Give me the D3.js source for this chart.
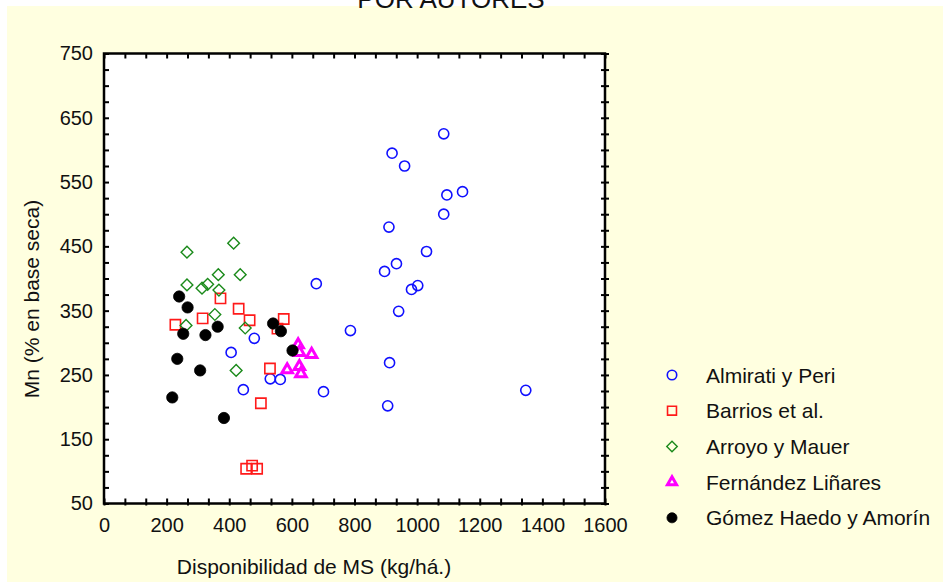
<!DOCTYPE html>
<html>
<head>
<meta charset="utf-8">
<script src="https://cdn.jsdelivr.net/npm/d3@7/dist/d3.min.js"></script>
<style>
  html, body { margin: 0; padding: 0; background: #ffffff; }
  svg { display: block; font-family: "Liberation Sans", Arial, sans-serif; }
</style>
</head>
<body>
<svg id="chart" width="943" height="587"></svg>
<script>
// Mn content vs. dry-matter availability, grouped by author
const almirati = [
  [1085, 625], [920, 595], [960, 575], [1145, 535], [1095, 530], [1085, 500],
  [910, 480], [1030, 442], [934, 423], [896, 411], [1002, 389], [982, 383],
  [941, 349], [678, 392], [787, 319], [406, 285], [480, 307], [912, 269],
  [445, 227], [531, 244], [563, 243], [701, 224], [906, 202], [1347, 226]
];
const barrios = [
  [372, 369], [430, 353], [465, 335], [315, 338], [228, 328], [574, 337],
  [554, 322], [530, 260], [501, 206], [454, 104], [473, 109], [489, 104]
];
const arroyo = [
  [414, 455], [265, 441], [365, 406], [435, 406], [265, 390], [331, 391],
  [313, 385], [367, 382], [354, 344], [262, 327], [451, 323], [422, 257]
];
const fernandez = [
  [620, 297], [624, 285], [663, 282], [585, 258], [624, 263], [629, 252]
];
const gomez = [
  [240, 372], [267, 355], [253, 314], [324, 312], [363, 325], [540, 330],
  [565, 318], [602, 288], [234, 275], [307, 257], [218, 215], [383, 183]
];

const seriesNames = ["Almirati y Peri", "Barrios et al.", "Arroyo y Mauer",
                     "Fernández Liñares", "Gómez Haedo y Amorín"];
const xTickLabels = [0, 200, 400, 600, 800, 1000, 1200, 1400, 1600];
const yTickLabels = [50, 150, 250, 350, 450, 550, 650, 750];

const svg = d3.select("#chart");
const plot = { left: 104, right: 605, top: 53.5, bottom: 503.5 };

const x = d3.scaleLinear().domain([0, 1600]).range([plot.left, plot.right]);
const y = d3.scaleLinear().domain([50, 750]).range([plot.bottom, plot.top]);

// page background
svg.append("rect").attr("x", 7).attr("y", 6).attr("width", 943 - 7).attr("height", 582 - 6)
  .attr("fill", "#ffffe0");

// title (partly above the visible area)
svg.append("text").attr("x", 451).attr("y", 7.5).attr("text-anchor", "middle")
  .attr("font-size", 26).attr("fill", "#111").text("POR AUTORES");

// plot area
svg.append("rect").attr("x", plot.left).attr("y", plot.top)
  .attr("width", plot.right - plot.left).attr("height", plot.bottom - plot.top)
  .attr("fill", "#ffffff");

// minor tick positions
const xMinor = d3.range(0, 1600 + 1e-6, 1600 / 24);
const yMinor = d3.range(50, 750 + 1e-6, 25);

const axisStyle = g => {
  g.select(".domain").remove();
  g.selectAll(".tick line").attr("stroke", "#000").attr("stroke-width", 2);
  g.selectAll("text").attr("fill", "#111").attr("font-size", 20)
    .attr("font-family", "Liberation Sans, Arial, sans-serif");
};

// bottom: ticks pointing in, labels below
svg.append("g").attr("transform", `translate(0,${plot.bottom})`)
  .call(d3.axisBottom(x).tickValues(xMinor).tickSize(-5).tickSizeOuter(0).tickFormat(""))
  .call(axisStyle)
  .call(g => g.selectAll(".tick line").attr("y2", -5).attr("y1", 2));
svg.append("g").attr("transform", `translate(0,${plot.bottom})`)
  .call(d3.axisBottom(x).tickValues(xTickLabels).tickSize(0).tickPadding(14).tickFormat(d3.format("d")))
  .call(axisStyle);

// top: ticks pointing in
svg.append("g").attr("transform", `translate(0,${plot.top})`)
  .call(d3.axisTop(x).tickValues(xMinor).tickSize(-5).tickSizeOuter(0).tickFormat(""))
  .call(axisStyle);

// left: ticks pointing in, labels at the left
svg.append("g").attr("transform", `translate(${plot.left},0)`)
  .call(d3.axisLeft(y).tickValues(yMinor).tickSize(-5).tickSizeOuter(0).tickFormat(""))
  .call(axisStyle);
svg.append("g").attr("transform", `translate(${plot.left},0)`)
  .call(d3.axisLeft(y).tickValues(yTickLabels).tickSize(0).tickPadding(11).tickFormat(d3.format("d")))
  .call(axisStyle);

// right: ticks crossing the frame
svg.append("g").attr("transform", `translate(${plot.right},0)`)
  .call(d3.axisRight(y).tickValues(yMinor).tickSize(4).tickSizeOuter(0).tickFormat(""))
  .call(axisStyle)
  .call(g => g.selectAll(".tick line").attr("x1", -4).attr("x2", 4));

// frame
svg.append("rect").attr("x", plot.left).attr("y", plot.top)
  .attr("width", plot.right - plot.left).attr("height", plot.bottom - plot.top)
  .attr("fill", "none").attr("stroke", "#000").attr("stroke-width", 2.5);

// axis titles
svg.append("text").attr("x", 314).attr("y", 574).attr("text-anchor", "middle")
  .attr("font-size", 21).attr("fill", "#111").text("Disponibilidad de MS (kg/há.)");
svg.append("text").attr("transform", "translate(39,299) rotate(-90)").attr("text-anchor", "middle")
  .attr("font-size", 21).attr("fill", "#111").text("Mn (% en base seca)");

// marker styles per series
const styles = [
  { data: almirati,  type: d3.symbolCircle,   size: 80,  fill: "none",   stroke: "#1010ff", sw: 1.6 },
  { data: barrios,   type: d3.symbolSquare,   size: 105, fill: "none",   stroke: "#ff1a1a", sw: 1.6 },
  { data: arroyo,    type: d3.symbolDiamond2, size: 88,  fill: "none",   stroke: "#1a8a1a", sw: 1.4 },
  { data: fernandez, type: d3.symbolTriangle, size: 48,  fill: "#ffffff", stroke: "#ff00ff", sw: 3 },
  { data: gomez,     type: d3.symbolCircle,   size: 100, fill: "#000000", stroke: "#000000", sw: 0.8 }
];

const marks = svg.append("g");
styles.forEach(s => {
  marks.append("g").selectAll("path").data(s.data).join("path")
    .attr("transform", d => `translate(${x(d[0])},${y(d[1])})`)
    .attr("d", d3.symbol().type(s.type).size(s.size))
    .attr("fill", s.fill).attr("stroke", s.stroke).attr("stroke-width", s.sw);
});

// legend
const legendSizes = [70, 80, 70, 36, 80];
const legend = svg.append("g");
seriesNames.forEach((name, i) => {
  const s = styles[i];
  const cy = 375 + i * 35.7;
  legend.append("path").attr("transform", `translate(672,${cy})`)
    .attr("d", d3.symbol().type(s.type).size(legendSizes[i]))
    .attr("fill", s.fill).attr("stroke", s.stroke).attr("stroke-width", s.sw);
  legend.append("text").attr("x", 706).attr("y", cy + 7.5)
    .attr("font-size", 21).attr("fill", "#111").text(name);
});
</script>
</body>
</html>
